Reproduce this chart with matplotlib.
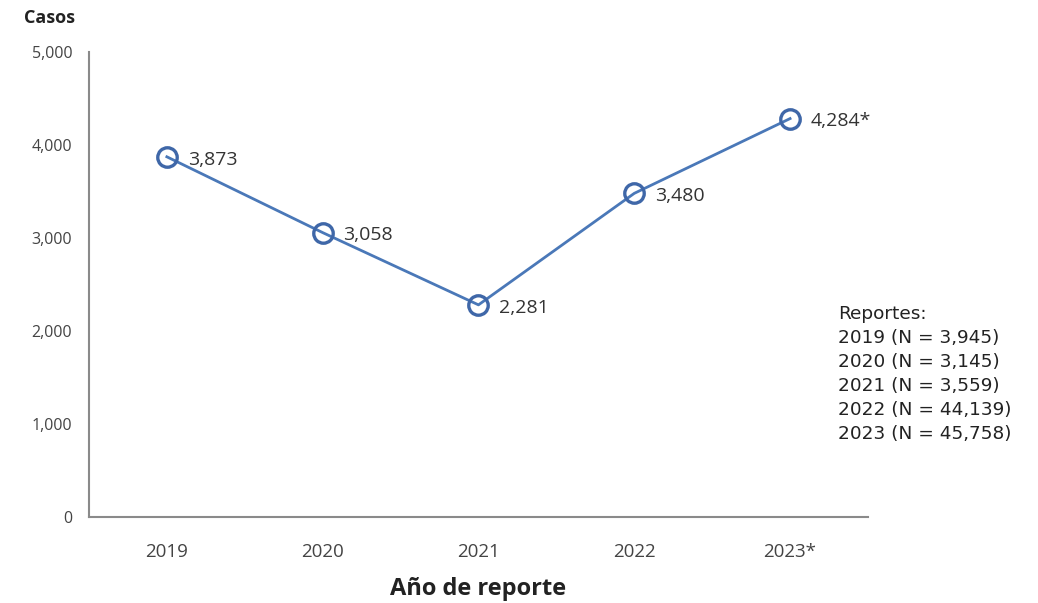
import matplotlib
matplotlib.use("Agg")
import matplotlib.pyplot as plt
from matplotlib.ticker import FuncFormatter

plt.rcParams['font.family'] = ['Open Sans', 'DejaVu Sans']

years = ["2019", "2020", "2021", "2022", "2023*"]
casos = [3873, 3058, 2281, 3480, 4284]
point_labels = ["3,873", "3,058", "2,281", "3,480", "4,284*"]
report_years = ["2019", "2020", "2021", "2022", "2023"]
report_n = ["3,945", "3,145", "3,559", "44,139", "45,758"]

fig = plt.figure(figsize=(10.38, 6.03), dpi=100)
ax = fig.add_axes([0.0857, 0.1426, 0.7505, 0.7712])

x = list(range(len(years)))
line_color = "#4a78b8"
ax.plot(x, casos, color=line_color, lw=2, marker="o", markersize=14,
        markerfacecolor="none", markeredgecolor="#3f67a8", markeredgewidth=2.4,
        zorder=3)

for xi, yi, lab in zip(x, casos, point_labels):
    ax.annotate(lab, (xi, yi), xytext=(15, -2), textcoords="offset points",
                ha="left", va="center", fontsize=14, color="#333333")

ax.set_xlim(-0.5, 4.5)
ax.set_ylim(0, 5000)
ax.set_yticks([0, 1000, 2000, 3000, 4000, 5000])
ax.yaxis.set_major_formatter(FuncFormatter(lambda v, p: f"{int(v):,}"))
ax.set_xticks(x)
ax.set_xticklabels(years)
ax.tick_params(axis="both", length=0, colors="#444444")
ax.tick_params(axis="y", labelsize=11.5, pad=12)
ax.tick_params(axis="x", labelsize=13.5, pad=19)

for side in ["top", "right"]:
    ax.spines[side].set_visible(False)
for side in ["left", "bottom"]:
    ax.spines[side].set_color("#8a8a8a")
    ax.spines[side].set_linewidth(1.5)

ax.set_xlabel("Año de reporte", fontsize=17, fontweight="bold", color="#222222",
              labelpad=11)
fig.text(0.048, 0.97, "Casos", fontsize=13, fontweight="bold", color="#222222",
         ha="center", va="center")

lines = ["Reportes:"] + [f"{y} (N = {n})" for y, n in zip(report_years, report_n)]
fig.text(0.807, 0.494, "\n".join(lines), fontsize=13.3, color="#222222",
         ha="left", va="top", linespacing=1.42, family=["DejaVu Sans"])

fig.savefig("out.png", dpi=100)
